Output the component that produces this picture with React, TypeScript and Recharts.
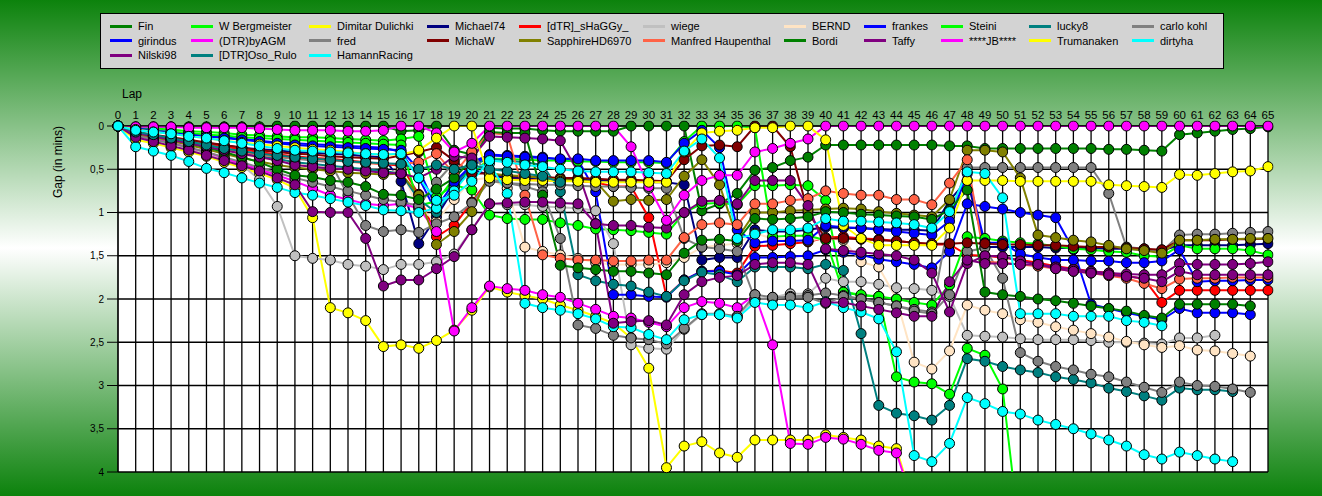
import React from "react";
import { LineChart, Line, XAxis, YAxis, CartesianGrid } from "recharts";

// lap numbers (x axis)
const laps = [
  0, 1, 2, 3, 4, 5, 6, 7, 8, 9, 10, 11, 12, 13, 14, 15, 16, 17, 18, 19, 20, 21,
  22, 23, 24, 25, 26, 27, 28, 29, 30, 31, 32, 33, 34, 35, 36, 37, 38, 39, 40, 41,
  42, 43, 44, 45, 46, 47, 48, 49, 50, 51, 52, 53, 54, 55, 56, 57, 58, 59, 60, 61,
  62, 63, 64, 65,
];

const gapTicks = [0, 0.5, 1, 1.5, 2, 2.5, 3, 3.5, 4];

// gap to leader in minutes, one value per lap
const fin = [
  0, 0.01, 0.01, 0.01, 0.01, 0.01, 0.01, 0.01, 0.01, 0,
  0, 0, 0, 0, 0, 0, 0.06, 0.05, 0, 0.28,
  0.33, 0.02, 0.03, 0.03, 0.05, 0.06, 0.06, 0.06, 0.06, 0,
  0, 0, 0, 0.98, 0.9, 0.78, 0.51, 0.48, 0.4, 0.36,
  0.22, 0.22, 0.22, 0.22, 0.22, 0.22, 0.22, 0.23, 0.23, 0.26,
  0.26, 0.26, 0.26, 0.26, 0.26, 0.26, 0.27, 0.27, 0.28, 0.29,
  0.1, 0.08, 0.06, 0.04, 0.03, 0.01,
];
const wBergmeister = [
  0, 0.02, 0.03, 0.04, 0.06, 0.07, 0.08, 0.1, 0.11, 0.12,
  0.13, 0.13, 0.14, 0.15, 0.16, 0.17, 0.15, 0.12, 0.82, 0.68,
  0.74, 1.03, 1.07, 1.08, 1.08, 1.12, 1.15, 1.19, 1.2, 1.21,
  1.23, 1.25, 1.0, 0.9, 0.89, 0.91, 0.69, 0.69, 0.68, 0.69,
  0.86, 1.92, 1.96, 1.97, 2.9, 2.96, 2.98, 3.1, 2.57, 2.65,
  3.04, 4.8,
];
const dimitar = [
  0, 0.16, 0.2, 0.25, 0.3, 0.35, 0.42, 0.48, 0.55, 0.62,
  0.72, 1.06, 2.1, 2.16, 2.25, 2.55, 2.53, 2.57, 2.48, 2.36,
  2.13, 1.86, 1.92, 1.96, 2.0, 2.07, 2.13, 2.2, 2.28, 2.45,
  2.8, 3.95, 3.7, 3.65, 3.78, 3.83, 3.63, 3.63, 3.63, 3.63,
  3.57, 3.6, 3.63, 3.7, 3.73, 4.4,
];
const michael74 = [
  0, 0.1, 0.12, 0.14, 0.17, 0.2, 0.22, 0.25, 0.27, 0.28,
  0.3, 0.31, 0.32, 0.33, 0.35, 0.36, 0.64, 1.36, 1.05, 0.72,
  0.5, 0.57, 0.6, 0.6, 0.61, 0.62, 0.62, 0.63, 0.64, 0.64,
  0.65, 0.65, 0.68, 1.55, 1.52, 1.52, 1.2, 1.22, 1.22, 1.2,
  1.17, 1.18, 1.18, 1.19, 1.2, 1.2, 1.21, 0.86, 0.63, 1.4,
  1.4, 1.4, 1.4, 1.41, 1.41, 1.41, 1.42, 1.42, 1.43, 1.44,
  1.38, 1.38, 1.38, 1.38, 1.37, 1.36,
];
const shaggy = [
  0, 0.08, 0.11, 0.14, 0.18, 0.21, 0.24, 0.27, 0.3, 0.33,
  0.35, 0.37, 0.38, 0.4, 0.42, 0.44, 0.46, 0.79, 1.28, 1.15,
  0.88, 0.6, 0.62, 0.62, 0.63, 0.63, 0.64, 0.65, 0.7, 0.7,
  1.06, 1.97, 1.78, 1.68, 1.67, 1.7, 1.39, 1.38, 1.36, 1.34,
  1.29, 1.28, 1.3, 1.31, 1.33, 1.35, 1.37, 1.37, 1.49, 1.5,
  1.52, 1.55, 1.58, 1.62, 1.65, 1.68, 1.7, 1.73, 1.77, 2.04,
  1.9, 1.9, 1.9, 1.9, 1.9, 1.9,
];
const wiege = [
  0, 0.1, 0.15, 0.2, 0.26, 0.32, 0.38, 0.45, 0.62, 0.93,
  1.5, 1.53, 1.55, 1.6, 1.62, 1.66, 1.6, 1.6, 1.57, 1.48,
  1.2, 0.9, 0.91, 0.91, 0.93, 0.94, 0.95, 0.98, 1.36, 2.53,
  2.57, 2.58, 2.35, 2.18, 2.18, 2.2, 2.0, 1.98, 1.94, 1.94,
  1.76, 1.8, 1.8, 1.83, 1.87, 1.88, 1.9, 1.97, 2.42, 2.43,
  2.44, 2.46, 2.47, 2.47, 2.47, 2.48, 2.5, 2.5, 2.51, 2.52,
  2.45, 2.45, 2.42,
];
const bernd = [
  0, 0.09, 0.13, 0.17, 0.21, 0.25, 0.29, 0.33, 0.37, 0.4,
  0.43, 0.45, 0.47, 0.49, 0.51, 0.53, 0.52, 0.95, 1.1, 0.85,
  0.62, 0.6, 0.72, 1.4, 1.45, 1.49, 1.53, 1.58, 1.6, 1.6,
  1.6, 1.58, 1.52, 1.4, 1.38, 1.36, 1.24, 1.3, 1.32, 1.33,
  1.29, 1.32, 1.57, 1.63, 2.0, 2.73, 2.81, 2.6, 2.07, 2.13,
  2.17, 2.24, 2.27, 2.32, 2.36, 2.4, 2.44, 2.49, 2.53, 2.56,
  2.54, 2.59, 2.6, 2.63, 2.66,
];
const frankes = [
  0, 0.03, 0.05, 0.07, 0.09, 0.11, 0.13, 0.15, 0.17, 0.19,
  0.2, 0.21, 0.22, 0.23, 0.24, 0.25, 0.3, 0.6, 1.0, 0.7,
  0.42, 0.33, 0.34, 0.35, 0.36, 0.39, 0.39, 0.76, 1.95, 1.95,
  1.97, 1.98, 1.78, 1.68, 1.68, 1.72, 1.52, 1.52, 1.51, 1.5,
  1.43, 1.46, 1.49, 1.54, 1.57, 1.6, 1.64, 1.45, 0.9, 0.93,
  0.96, 1.0, 1.03, 1.06, 1.43, 2.06, 2.11, 2.16, 2.2, 2.24,
  2.11, 2.16, 2.16, 2.16, 2.18,
];
const steini = [
  0, 0.04, 0.06, 0.07, 0.08, 0.1, 0.11, 0.13, 0.14, 0.15,
  0.16, 0.17, 0.18, 0.19, 0.2, 0.21, 0.22, 0.92, 0.87, 0.6,
  0.55, 0.38, 0.38, 0.39, 0.4, 0.4, 0.41, 0.41, 0.42, 0.42,
  0.42, 0.43, 0.18, 0, 0, 0, 0.02, 1.28, 1.27, 1.27,
  1.32, 1.92, 1.95, 1.97, 2.0, 2.04, 2.07, 1.84, 1.28, 1.3,
  1.33, 1.35, 1.36, 1.39, 1.42, 1.43, 1.45, 1.46, 1.5, 1.51,
  1.38, 1.42, 1.42, 1.42, 1.44, 1.49,
];
const lucky8 = [
  0, 0.08, 0.12, 0.15, 0.19, 0.23, 0.27, 0.31, 0.35, 0.38,
  0.42, 0.44, 0.46, 0.48, 0.5, 0.52, 0.55, 0.85, 1.0, 0.7,
  0.45, 0.38, 0.4, 0.42, 0.45, 0.76, 1.72, 1.79, 1.83, 1.85,
  1.92, 1.97, 1.79, 1.69, 1.72, 1.8, 1.63, 1.63, 1.63, 1.65,
  1.6, 1.67, 2.4, 3.23, 3.32, 3.35, 3.4, 3.23, 2.69, 2.72,
  2.78, 2.82, 2.85, 2.9, 2.93, 2.97, 3.03, 3.07, 3.12, 3.17,
  3.03, 3.05, 3.05, 3.07,
];
const carloKohl = [
  0, 0.07, 0.11, 0.14, 0.18, 0.22, 0.26, 0.3, 0.33, 0.36,
  0.38, 0.4, 0.42, 0.8, 1.15, 1.22, 1.2, 1.23, 1.13, 1.05,
  0.89, 0.64, 0.66, 0.67, 0.68, 0.68, 0.69, 0.7, 0.7, 0.71,
  0.72, 0.72, 1.3, 1.4, 1.42, 1.45, 2.0, 2.0, 1.97, 1.96,
  1.93, 1.96, 2.0, 2.04, 2.08, 2.12, 2.15, 1.05, 0.48, 0.48,
  0.48, 0.48, 0.48, 0.48, 0.48, 0.48, 0.78, 1.4, 1.42, 1.45,
  1.26, 1.25, 1.25, 1.24, 1.23, 1.22,
];
const girindus = [
  0, 0.04, 0.06, 0.08, 0.1, 0.12, 0.14, 0.16, 0.18, 0.2,
  0.22, 0.23, 0.24, 0.25, 0.26, 0.27, 0.28, 0.5, 0.95, 0.65,
  0.45, 0.34, 0.35, 0.36, 0.37, 0.38, 0.38, 0.4, 0.4, 0.4,
  0.4, 0.42, 0.2, 0.05, 0.25, 1.2, 1.35, 1.33, 1.33, 1.32,
  1.15, 1.17, 1.18, 1.2, 1.22, 1.24, 1.26, 1.1, 0.55, 1.35,
  1.35, 1.48, 1.52, 1.55, 1.55, 1.56, 1.56, 1.58, 1.58, 1.56,
  1.43, 1.8, 1.79, 1.79, 1.78, 1.78,
];
const byAgm = [
  0, 0.1, 0.15, 0.19, 0.25, 0.3, 0.37, 0.44, 0.5, 0.57,
  0.64, 0.72, 0.8, 0.85, 0.9, 0.92, 0.9, 0.95, 1.22, 2.37,
  2.1, 1.85, 1.88, 1.9, 1.95, 1.98, 2.05, 2.12, 2.2, 2.22,
  2.27, 2.32, 2.1, 2.03, 2.05, 2.1, 1.95, 2.53, 3.67, 3.68,
  3.6, 3.62, 3.68, 3.75, 3.78, 4.4,
];
const fred = [
  0, 0.11, 0.16, 0.2, 0.25, 0.3, 0.36, 0.42, 0.48, 0.54,
  0.6, 0.65, 0.7, 0.75, 0.8, 0.85, 0.88, 0.92, 0.65, 0.42,
  0.3, 0.6, 0.66, 0.7, 0.76, 1.3, 2.3, 2.34, 2.42, 2.45,
  2.47, 2.52, 2.34, 2.17, 2.17, 2.2, 1.95, 1.98, 1.98, 1.98,
  2.05, 1.97, 2.0, 2.04, 2.08, 2.14, 2.17, 1.95, 1.45, 1.41,
  1.76, 2.62, 2.72, 2.78, 2.82, 2.87, 2.9, 2.96, 3.02, 3.08,
  2.96, 3.0, 3.01, 3.04, 3.08,
];
const michaW = [
  0, 0.07, 0.1, 0.13, 0.16, 0.19, 0.22, 0.25, 0.28, 0.3,
  0.32, 0.33, 0.35, 0.36, 0.37, 0.38, 0.34, 0.3, 0.25, 0.4,
  0.55, 0.55, 0.58, 0.58, 0.59, 0.6, 0.6, 0.61, 0.62, 0.62,
  0.63, 0.64, 0.39, 0.23, 0.22, 0.24, 0, 0, 0.24, 1.0,
  1.3, 1.3, 1.31, 1.32, 1.33, 1.35, 1.36, 1.36, 1.35, 1.36,
  1.37, 1.37, 1.38, 1.38, 1.39, 1.4, 1.4, 1.41, 1.42, 1.43,
  1.32, 1.32, 1.32, 1.31, 1.31, 1.3,
];
const sapphire = [
  0, 0.09, 0.13, 0.17, 0.22, 0.27, 0.32, 0.37, 0.41, 0.45,
  0.48, 0.5, 0.52, 0.54, 0.55, 0.56, 0.55, 0.8, 1.37, 1.22,
  0.99, 0.55, 0.57, 0.58, 0.6, 0.62, 0.63, 0.64, 0.87, 0.85,
  0.86, 0.85, 0.58, 0.39, 0.68, 1.3, 1.0, 1.0, 0.98, 0.97,
  0.96, 0.95, 0.96, 0.99, 1.01, 1.03, 1.05, 0.85, 0.28, 0.28,
  0.3, 0.6, 1.26, 1.29, 1.32, 1.34, 1.38, 1.42, 1.44, 1.47,
  1.32, 1.32, 1.31, 1.31, 1.3, 1.3,
];
const manfred = [
  0, 0.07, 0.11, 0.15, 0.19, 0.23, 0.27, 0.3, 0.33, 0.35,
  0.37, 0.38, 0.4, 0.41, 0.43, 0.44, 0.44, 0.42, 0.32, 0.55,
  0.3, 0.08, 0.1, 0.8, 1.49, 1.53, 1.55, 1.55, 1.56, 1.56,
  1.55, 1.55, 1.29, 1.14, 1.12, 1.14, 0.9, 0.9, 0.86, 0.84,
  0.75, 0.78, 0.8, 0.8, 0.85, 0.85, 0.91, 0.66, 0.39, 1.57,
  1.58, 1.6, 1.62, 1.65, 1.68, 1.7, 1.73, 1.76, 1.82, 1.88,
  1.77, 1.76, 1.76, 1.75, 1.75, 1.75,
];
const bordi = [
  0, 0.07, 0.11, 0.15, 0.2, 0.25, 0.3, 0.36, 0.42, 0.5,
  0.57, 0.59, 0.63, 0.65, 0.7, 0.79, 0.8, 0.85, 0.73, 0.6,
  0.39, 0.07, 0.08, 0.08, 0.8, 1.61, 1.64, 1.66, 1.68, 1.68,
  1.7, 1.72, 1.47, 1.32, 1.31, 1.33, 1.07, 1.08, 1.07, 1.05,
  0.99, 1.0, 1.02, 1.03, 1.04, 1.05, 1.08, 0.97, 0.74, 1.92,
  1.95, 1.97, 2.0, 2.02, 2.05, 2.08, 2.11, 2.14, 2.19, 2.22,
  2.06, 2.06, 2.06, 2.06, 2.08,
];
const taffy = [
  0, 0.08, 0.12, 0.16, 0.2, 0.24, 0.28, 0.32, 0.36, 0.4,
  0.45, 0.47, 0.49, 0.5, 0.52, 0.54, 0.55, 0.6, 0.5, 0.35,
  0.37, 0.12, 0.13, 0.14, 0.15, 0.17, 0.53, 1.13, 1.15, 1.15,
  1.17, 1.18, 1.0, 0.87, 0.86, 0.9, 0.63, 0.63, 0.63, 0.92,
  1.42, 1.44, 1.46, 1.48, 1.5, 1.55, 1.7, 2.15, 1.59, 1.5,
  1.51, 1.56, 1.6, 1.63, 1.66, 1.68, 1.7, 1.71, 1.72, 1.72,
  1.59, 1.6, 1.6, 1.6, 1.59, 1.57,
];
const jb = [
  0, 0.01, 0.01, 0.01, 0.02, 0.02, 0.02, 0.02, 0.03, 0.04,
  0.05, 0.05, 0.05, 0.06, 0.06, 0.05, 0, 0, 0.08, 0.3,
  0.2, 0, 0, 0, 0, 0, 0, 0, 0, 0.24,
  0.7, 1.09, 0.8, 0.63, 0.57, 0.57, 0.3, 0.26, 0.2, 0.15,
  0, 0, 0, 0, 0, 0, 0, 0, 0, 0,
  0, 0, 0, 0, 0, 0, 0, 0, 0, 0,
  0, 0, 0, 0, 0, 0,
];
const trumanaken = [
  0, 0.04, 0.07, 0.09, 0.12, 0.14, 0.17, 0.19, 0.21, 0.23,
  0.25, 0.27, 0.28, 0.3, 0.32, 0.33, 0.33, 0.28, 0.14, 0,
  0, 0.6, 0.62, 0.63, 0.63, 0.64, 0.64, 0.65, 0.65, 0.65,
  0.65, 0.65, 0.3, 0.08, 0.06, 0.05, 0.02, 0.02, 0, 0,
  0.16, 1.15, 1.3, 1.38, 1.38, 1.38, 1.38, 1.18, 0.63, 0.63,
  0.63, 0.64, 0.64, 0.64, 0.64, 0.64, 0.68, 0.69, 0.7, 0.71,
  0.56, 0.57, 0.55, 0.53, 0.52, 0.47,
];
const dirtyha = [
  0, 0.24, 0.29, 0.34, 0.41, 0.49, 0.54, 0.6, 0.66, 0.71,
  0.77, 0.8, 0.84, 0.88, 0.92, 0.97, 0.98, 1.0, 0.95, 0.75,
  0.5, 0.43, 0.78, 2.05, 2.1, 2.13, 2.17, 2.23, 2.32, 2.33,
  2.41, 2.47, 2.24, 2.18, 2.18, 2.22, 2.04, 2.07, 2.07, 2.1,
  2.03, 2.1, 2.15, 2.23, 2.61, 3.81, 3.88, 3.67, 3.14, 3.21,
  3.3, 3.33, 3.4, 3.45, 3.5, 3.56, 3.63, 3.7, 3.8, 3.85,
  3.77, 3.81, 3.85, 3.88,
];
const nilski98 = [
  0, 0.13, 0.18, 0.23, 0.28, 0.34, 0.4, 0.46, 0.52, 0.6,
  0.68, 0.99, 1.0, 1.0, 1.3, 1.85, 1.78, 1.78, 1.65, 1.51,
  1.2, 0.9, 0.89, 0.88, 0.88, 0.89, 0.9, 1.13, 2.28, 2.26,
  2.25, 2.3, 1.95, 1.8, 1.75, 1.73, 1.6, 1.58, 1.58, 1.6,
  2.04, 2.04, 2.08, 2.12, 2.16, 2.2, 2.2, 1.8, 1.55, 1.59,
  1.59, 1.6, 1.6, 1.65, 1.68, 1.7, 1.72, 1.74, 1.76, 1.8,
  1.68, 1.72, 1.72, 1.72, 1.72, 1.72,
];
const osoRulo = [
  0, 0.07, 0.1, 0.14, 0.18, 0.22, 0.26, 0.29, 0.32, 0.34,
  0.36, 0.38, 0.39, 0.41, 0.42, 0.43, 0.44, 0.5, 0.45, 0.5,
  0.45, 0.5, 0.52, 0.55, 0.58, 0.65,
];
const hamann = [
  0, 0.05, 0.07, 0.09, 0.12, 0.14, 0.17, 0.2, 0.23, 0.26,
  0.28, 0.29, 0.3, 0.31, 0.32, 0.33, 0.32, 0.6, 0.86, 0.8,
  0.64, 0.4, 0.42, 0.45, 0.47, 0.5, 0.52, 0.53, 0.53, 0.53,
  0.54, 0.55, 0.29, 0.15, 0.37, 1.3, 1.25, 1.2, 1.2, 1.18,
  1.07, 1.1, 1.1, 1.11, 1.12, 1.14, 1.18, 0.99, 0.53, 0.55,
  0.83, 2.17, 2.17, 2.17, 2.2, 2.2, 2.2, 2.25, 2.27, 2.31,
];

const drivers = [
  { name: "Fin", color: "#008000", values: fin },
  { name: "W Bergmeister", color: "#00ff00", values: wBergmeister },
  { name: "Dimitar Dulichki", color: "#ffff00", values: dimitar },
  { name: "Michael74", color: "#000080", values: michael74 },
  { name: "[dTR]_sHaGGy_", color: "#ff0000", values: shaggy },
  { name: "wiege", color: "#c0c0c0", values: wiege },
  { name: "BERND", color: "#ffe4c4", values: bernd },
  { name: "frankes", color: "#0000ff", values: frankes },
  { name: "Steini", color: "#00ff00", values: steini },
  { name: "lucky8", color: "#008080", values: lucky8 },
  { name: "carlo kohl", color: "#808080", values: carloKohl },
  { name: "girindus", color: "#0000ff", values: girindus },
  { name: "(DTR)byAGM", color: "#ff00ff", values: byAgm },
  { name: "fred", color: "#808080", values: fred },
  { name: "MichaW", color: "#800000", values: michaW },
  { name: "SapphireHD6970", color: "#808000", values: sapphire },
  { name: "Manfred Haupenthal", color: "#ff6347", values: manfred },
  { name: "Bordi", color: "#008000", values: bordi },
  { name: "Taffy", color: "#800080", values: taffy },
  { name: "****JB****", color: "#ff00ff", values: jb },
  { name: "Trumanaken", color: "#ffff00", values: trumanaken },
  { name: "dirtyha", color: "#00ffff", values: dirtyha },
  { name: "Nilski98", color: "#800080", values: nilski98 },
  { name: "[DTR]Oso_Rulo", color: "#008080", values: osoRulo },
  { name: "HamannRacing", color: "#00ffff", values: hamann },
];

// legend column x positions (page coords) and row centres
const legendCols = [110, 191, 309, 427, 519, 643, 784, 864, 941, 1029, 1132];
const legendRows = [26, 40.5, 55];

const rows = laps.map((lap, i) => {
  const row: Record<string, number | null> = { lap };
  drivers.forEach((d, k) => {
    const v = d.values[i];
    row[`s${k}`] = v === undefined ? null : v;
  });
  return row;
});

const fmtGap = (v: number) => String(v).replace(".", ",");

const ChartLegend = () => (
  <div
    style={{
      position: "absolute",
      left: 100,
      top: 13,
      width: 1122,
      height: 54,
      background: "#d3d3d3",
      border: "1px solid #000",
    }}
  >
    {drivers.map((d, i) => {
      const col = i % legendCols.length;
      const row = Math.floor(i / legendCols.length);
      return (
        <div
          key={d.name}
          style={{
            position: "absolute",
            left: legendCols[col] - 101,
            top: legendRows[row] - 14 - 7,
            height: 14,
            display: "flex",
            alignItems: "center",
            whiteSpace: "nowrap",
            fontSize: 11,
            color: "#000",
          }}
        >
          <span
            style={{
              display: "inline-block",
              width: 22,
              height: 3,
              background: d.color,
              marginRight: 6,
            }}
          />
          {d.name}
        </div>
      );
    })}
  </div>
);

export default function App() {
  return (
    <div
      style={{
        position: "absolute",
        left: 0,
        top: 0,
        width: 1322,
        height: 496,
        overflow: "hidden",
        background: "linear-gradient(to bottom, #0c820c 0%, #ffffff 50%, #0c820c 100%)",
        fontFamily: '"Liberation Sans", Arial, sans-serif',
      }}
    >
      <LineChart
        width={1322}
        height={496}
        data={rows}
        margin={{ top: 96, right: 54, bottom: 24, left: 58 }}
      >
        <CartesianGrid
          stroke="#000"
          strokeWidth={1.3}
          fill="#ffffff"
          fillOpacity={1}
        />
        <XAxis
          dataKey="lap"
          type="number"
          orientation="top"
          domain={[0, 65]}
          ticks={laps}
          interval={0}
          height={30}
          tickSize={5}
          tickMargin={2}
          stroke="#000"
          tick={{ fontSize: 11.5, fill: "#000" }}
          label={{
            content: () => (
              <text x={122} y={98} fontSize={12} fill="#000">
                Lap
              </text>
            ),
          }}
        />
        <YAxis
          type="number"
          domain={[0, 4]}
          reversed
          allowDataOverflow
          ticks={gapTicks}
          interval={0}
          width={60}
          tickSize={11}
          tickMargin={3}
          stroke="#000"
          tick={{ fontSize: 10, fill: "#000" }}
          tickFormatter={fmtGap}
          label={{
            content: () => (
              <text
                x={62}
                y={162}
                fontSize={12}
                fill="#000"
                textAnchor="middle"
                transform="rotate(-90 62 162)"
              >
                Gap (in mins)
              </text>
            ),
          }}
        />
        {drivers.map((d, k) => (
          <Line
            key={d.name}
            name={d.name}
            dataKey={`s${k}`}
            type="linear"
            stroke={d.color}
            strokeWidth={2}
            dot={{ r: 5, fill: d.color, stroke: "#000", strokeWidth: 1, clipDot: false }}
            activeDot={false}
            isAnimationActive={false}
          />
        ))}
      </LineChart>
      <ChartLegend />
    </div>
  );
}
